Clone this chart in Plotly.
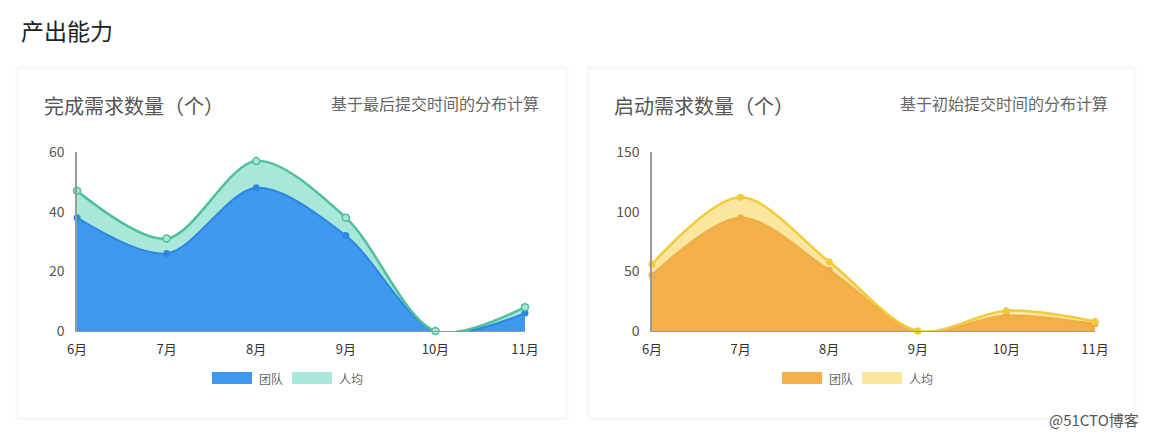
import plotly.graph_objects as go

W, H = 1151, 437
OFF = 8  # the page body margin shifts the figure by 8px

# data
months = ["6月", "7月", "8月", "9月", "10月", "11月"]
done_team = [38, 26, 48, 32, 0, 6]
done_avg = [9, 5, 9, 6, 0, 2]      # stacked on top of team
start_team = [47, 95, 51, 0, 13, 6]
start_avg = [9, 17, 7, 0, 4, 2]
done_ticks = [0, 20, 40, 60]
start_ticks = [0, 50, 100, 150]

FONT = "Noto Sans CJK SC"


def px(x):
    return (x - OFF) / W


def py(y):
    return 1 - (y - OFF) / H


fig = go.Figure()

# left chart
fig.add_trace(go.Scatter(x=months, y=done_team, stackgroup="left", name="团队",
                         line=dict(color="#2d86e3", width=2, shape="spline", smoothing=0.9),
                         fillcolor="#3d98ee", mode="lines+markers", cliponaxis=False,
                         marker=dict(size=7, color="#2d86e3"),
                         xaxis="x", yaxis="y"))
fig.add_trace(go.Scatter(x=months, y=done_avg, stackgroup="left", name="人均",
                         line=dict(color="#4fbf9c", width=2.5, shape="spline", smoothing=0.9),
                         fillcolor="#a9e8d9", mode="lines+markers", cliponaxis=False,
                         marker=dict(size=7, color="#a9e8d9", line=dict(color="#4fbf9c", width=1.5)),
                         xaxis="x", yaxis="y"))

# right chart
fig.add_trace(go.Scatter(x=months, y=start_team, stackgroup="right", name="团队",
                         line=dict(color="#efae45", width=2, shape="spline", smoothing=0.9),
                         fillcolor="#f3b048", mode="lines+markers", cliponaxis=False,
                         marker=dict(size=7, color="#efae45"),
                         xaxis="x2", yaxis="y2"))
fig.add_trace(go.Scatter(x=months, y=start_avg, stackgroup="right", name="人均",
                         line=dict(color="#f2cb3a", width=2.5, shape="spline", smoothing=0.9),
                         fillcolor="#fbe6a0", mode="lines+markers", cliponaxis=False,
                         marker=dict(size=7, color="#f2cb3a"),
                         xaxis="x2", yaxis="y2"))

xcommon = dict(type="category", range=[0, 5], showgrid=False, zeroline=False,
               showline=True, linecolor="#999", linewidth=1, ticks="",
               automargin=False, ticklabelstandoff=6,
               tickfont=dict(family=FONT, size=13, color="#333"), fixedrange=True)
ycommon = dict(showgrid=False, zeroline=False, showline=True, linecolor="#999",
               linewidth=1.5, ticks="", automargin=False, ticklabelstandoff=8,
               tickfont=dict(family=FONT, size=14, color="#555"), fixedrange=True)

fig.update_layout(
    width=W, height=H, autosize=False,
    margin=dict(l=0, r=0, t=0, b=0, pad=0, autoexpand=False),
    paper_bgcolor="white", plot_bgcolor="rgba(0,0,0,0)", showlegend=False,
    xaxis=dict(domain=[px(77), px(525)], anchor="y", **xcommon),
    yaxis=dict(domain=[py(331), py(152)], anchor="x", range=[0, 60],
               tickvals=done_ticks, **ycommon),
    xaxis2=dict(domain=[px(652), px(1095)], anchor="y2", **xcommon),
    yaxis2=dict(domain=[py(331), py(152)], anchor="x2", range=[0, 150],
                tickvals=start_ticks, **ycommon),
)

shapes = []
# cards with a soft shadow
for x0, x1 in [(18, 566), (589, 1134)]:
    shapes.append(dict(type="rect", xref="paper", yref="paper", layer="below",
                       x0=px(x0 - 3), x1=px(x1 + 3), y0=py(68 - 3), y1=py(418 + 3),
                       fillcolor="rgba(0,0,0,0.012)", line=dict(width=0)))
    shapes.append(dict(type="rect", xref="paper", yref="paper", layer="below",
                       x0=px(x0), x1=px(x1), y0=py(68), y1=py(418),
                       fillcolor="white", line=dict(color="rgba(0,0,0,0.035)", width=1.5)))

annotations = [
    dict(text="产出能力", x=px(19), y=py(30), xanchor="left", yanchor="middle",
         font=dict(family=FONT, size=23, color="#222")),
    dict(text="完成需求数量（个）", x=px(42), y=py(105), xanchor="left", yanchor="middle",
         font=dict(family=FONT, size=20, color="#555")),
    dict(text="基于最后提交时间的分布计算", x=px(541), y=py(103), xanchor="right", yanchor="middle",
         font=dict(family=FONT, size=16, color="#666")),
    dict(text="启动需求数量（个）", x=px(612), y=py(105), xanchor="left", yanchor="middle",
         font=dict(family=FONT, size=20, color="#555")),
    dict(text="基于初始提交时间的分布计算", x=px(1110), y=py(103), xanchor="right", yanchor="middle",
         font=dict(family=FONT, size=16, color="#666")),
    dict(text="@51CTO博客", x=px(1141), y=py(419), xanchor="right", yanchor="middle",
         font=dict(family=FONT, size=15, color="#555")),
]

# legends
legend_items = [(212, "#3d98ee", "团队"), (292, "#a9e8d9", "人均"),
                (782, "#f3b048", "团队"), (862, "#fbe6a0", "人均")]
for lx, col, label in legend_items:
    shapes.append(dict(type="rect", xref="paper", yref="paper",
                       x0=px(lx), x1=px(lx + 40), y0=py(384), y1=py(372),
                       fillcolor=col, line=dict(width=0)))
    annotations.append(dict(text=label, x=px(lx + 45), y=py(378), xanchor="left",
                            yanchor="middle", font=dict(family=FONT, size=12, color="#666")))

for a in annotations:
    a.update(xref="paper", yref="paper", showarrow=False)

fig.update_layout(shapes=shapes, annotations=annotations)

fig.write_html("out.html")
